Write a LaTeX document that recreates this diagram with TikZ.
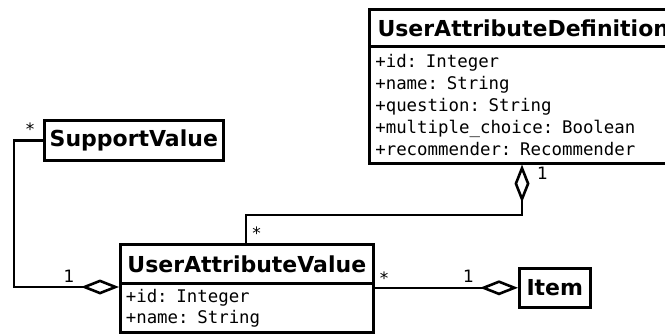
\documentclass[tikz,border=0pt]{standalone}
\usepackage{fontspec}
\setmainfont{DejaVu Sans}
\newfontfamily\umlmono{DejaVu Sans Mono}
\usetikzlibrary{arrows.meta}
\tikzset{
  agg/.tip={Diamond[open,length=38pt,width=15pt]},
  box/.style={draw, line width=2.6pt, inner sep=0pt, anchor=north west},
  umltitle/.style={box, font=\fontsize{22}{26}\selectfont\bfseries},
  umlattrs/.style={box, align=left, font=\umlmono\fontsize{17.4}{22}\selectfont},
  conn/.style={line width=2.6pt},
  lbl/.style={font=\fontsize{17}{20}\selectfont, inner sep=0pt, anchor=base}
}
\begin{document}
\begin{tikzpicture}[x=1pt,y=-1pt]
\useasboundingbox (0,0) rectangle (665,333);

% UserAttributeDefinition
\node[umltitle, minimum width=308pt, minimum height=37pt] (uadT) at (368,8) {UserAttributeDefinition};
\node[umlattrs, minimum width=308pt, minimum height=117pt, inner xsep=6pt, text width=296pt] (uadA) at (368,45)
  {+id: Integer\\+name: String\\+question: String\\+multiple\_choice: Boolean\\+recommender: Recommender};

% SupportValue
\node[umltitle, minimum width=179pt, minimum height=40pt] (sv) at (43,119) {SupportValue};

% UserAttributeValue
\node[umltitle, minimum width=253pt, minimum height=39pt] (uavT) at (119,243) {UserAttributeValue};
\node[umlattrs, minimum width=253pt, minimum height=49pt, inner xsep=5.5pt, text width=242pt,
      font=\umlmono\fontsize{17.4}{21}\selectfont] (uavA) at (119,282)
  {+id: Integer\\+name: String};

% Item
\node[umltitle, minimum width=71pt, minimum height=39pt] (item) at (518,267) {Item};

% connectors
\coordinate (b1) at (14,287);
\draw[conn,-agg] (sv.west) -| (b1) -- (b1 -| uavA.west);

\coordinate (b2) at (246,215);
\coordinate (b3) at (522,215);
\draw[conn,-agg] (b2 |- uavT.north) -- (b2) -- (b3) -- (b3 |- uadA.south);

\draw[conn,-agg] (uavA.east |- item.west) -- (item.west);

% multiplicities
\node[lbl] (m1) at (30,135) {*};
\node[lbl] (o1) at (69,282) {1};
\node[lbl] (m2) at (256.5,239) {*};
\node[lbl] (o2) at (542.5,179) {1};
\node[lbl] (m3) at (384,284) {*};
\node[lbl] (o3) at (468.5,282) {1};
\end{tikzpicture}
\end{document}
